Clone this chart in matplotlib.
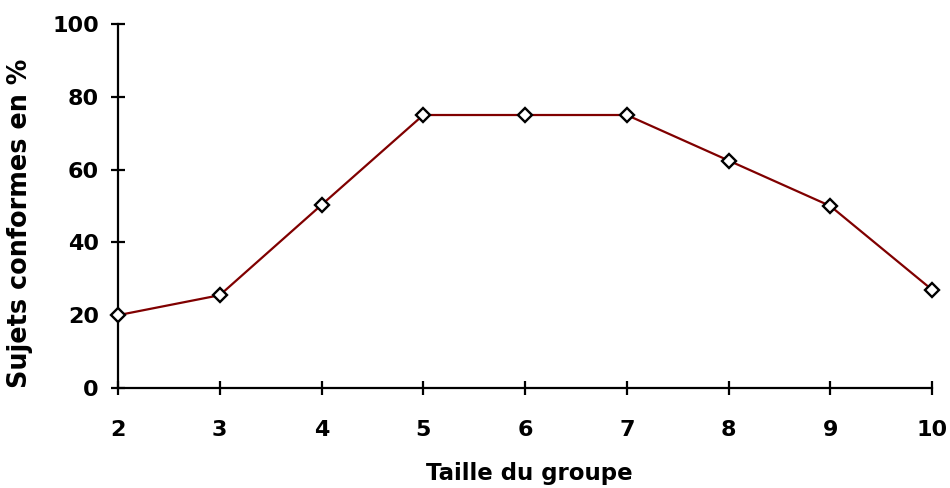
import numpy as np
import matplotlib.pyplot as plt

plt.rcParams['font.family'] = ['DejaVu Sans']
plt.rcParams['font.weight'] = 'bold'

taille = [2, 3, 4, 5, 6, 7, 8, 9, 10]
conformes = [20, 25.5, 50.3, 75, 75, 75, 62.5, 50, 27]

fig = plt.figure(figsize=(9.5, 4.88), dpi=100)
ax = fig.add_axes([0.1242, 0.2049, 0.8569, 0.7459])

ax.plot(taille, conformes, color='#800000', lw=1.6, marker='D', ms=7.3,
        mfc='white', mec='black', mew=1.7, clip_on=False, zorder=3)

ax.set_xlim(2, 10)
ax.set_ylim(0, 100)
ax.set_xticks(taille)
ax.set_yticks([0, 20, 40, 60, 80, 100])
for s in ['top', 'right']:
    ax.spines[s].set_visible(False)
for s in ['left', 'bottom']:
    ax.spines[s].set_linewidth(1.6)
ax.tick_params(direction='inout', length=9.5, width=1.6, labelsize=16)
ax.tick_params(axis='y', pad=9)
ax.tick_params(axis='x', pad=18)

ax.set_xlabel('Taille du groupe', fontsize=16.5, fontweight='bold')
ax.xaxis.set_label_coords(0.5055, -0.203)
ax.set_ylabel('Sujets conformes en %', fontsize=18.4, fontweight='bold')
ax.yaxis.set_label_coords(-0.104, 0.452)

fig.savefig('out.png', dpi=100)
